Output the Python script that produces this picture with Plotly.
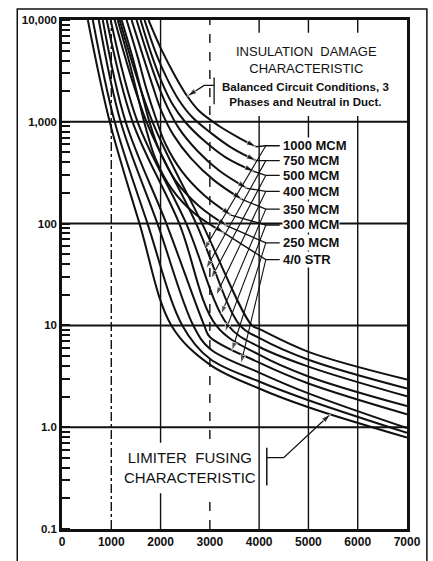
import numpy as np
import plotly.graph_objects as go

# ---- axis ticks ----
X_TICKS = [0, 1000, 2000, 3000, 4000, 5000, 6000, 7000]
Y_TICKS = [0.1, 1, 10, 100, 1000, 10000]
Y_TICK_TEXT = ["0.1", "1.0", "10", "100", "1,000", "10,000"]

CABLES = ["1000 MCM", "750 MCM", "500 MCM", "400 MCM",
          "350 MCM", "300 MCM", "250 MCM", "4/0 STR"]

# ---- insulation damage characteristics (current A, time) ----
ins_1000_i = [1755, 2037, 2300, 2542, 2784, 3187, 3591, 3934]
ins_1000_t = [10000, 4884, 2789, 1782, 1274, 910, 696, 569]
ins_750_i = [1674, 1917, 2139, 2360, 2640, 3046, 3470, 3934]
ins_750_t = [10000, 4565, 2608, 1667, 1114, 761, 544, 416]
ins_500_i = [1594, 1816, 2018, 2230, 2500, 2885, 3329, 3893]
ins_500_t = [10000, 4565, 2494, 1523, 995, 650, 444, 325]
ins_400_i = [1513, 1735, 1937, 2138, 2380, 2744, 3187, 3752]
ins_400_t = [10000, 4565, 2385, 1393, 851, 520, 332, 222]
ins_350_i = [1412, 1634, 1836, 2017, 2259, 2622, 3086, 3651]
ins_350_t = [10000, 4565, 2280, 1274, 744, 435, 266, 173]
ins_300_i = [1311, 1533, 1715, 1896, 2098, 2421, 2885, 3429]
ins_300_t = [10000, 4365, 2084, 1114, 608, 332, 190, 121]
ins_250_i = [1210, 1432, 1614, 1775, 1977, 2300, 2784, 3349]
ins_250_t = [10000, 4269, 1950, 995, 520, 266, 148, 94.8]
ins_4_0_i = [1130, 1352, 1533, 1695, 1896, 2219, 2703, 3288]
ins_4_0_t = [10000, 4083, 1823, 890, 435, 222, 124, 81]

# ---- limiter fusing characteristics (current A, time) ----
lim_1000_i = [1170, 1836, 2844, 3853, 4000, 5000, 7000]
lim_1000_t = [10000, 1000, 100, 10, 9.23, 5.5, 2.94]
lim_750_i = [1069, 1715, 2723, 3611, 4000, 5000, 7000]
lim_750_t = [10000, 1000, 100, 10, 7.54, 4.6, 2.40]
lim_500_i = [988, 1533, 2522, 3369, 4000, 5000, 7000]
lim_500_t = [10000, 1000, 100, 10, 6.17, 3.94, 2.01]
lim_400_i = [908, 1432, 2380, 3127, 4000, 5000, 7000]
lim_400_t = [10000, 1000, 100, 10, 5.15, 3.15, 1.61]
lim_350_i = [827, 1291, 2118, 2885, 3000, 4000, 5000, 7000]
lim_350_t = [10000, 1000, 100, 10, 7.7, 4.31, 2.69, 1.34]
lim_300_i = [746, 1190, 1937, 2663, 3000, 4000, 5000, 7000]
lim_300_t = [10000, 1000, 100, 10, 5.9, 3.44, 2.15, 0.98]
lim_250_i = [625, 1069, 1735, 2441, 3000, 4000, 5000, 7000]
lim_250_t = [10000, 1000, 100, 10, 4.7, 2.81, 1.84, 0.88]
lim_4_0_i = [524, 968, 1573, 2219, 3000, 4000, 5000, 7000]
lim_4_0_t = [10000, 1000, 100, 10, 4.12, 2.40, 1.57, 0.79]

ins_curves = [(ins_1000_i, ins_1000_t), (ins_750_i, ins_750_t),
              (ins_500_i, ins_500_t), (ins_400_i, ins_400_t),
              (ins_350_i, ins_350_t), (ins_300_i, ins_300_t),
              (ins_250_i, ins_250_t), (ins_4_0_i, ins_4_0_t)]
lim_curves = [(lim_1000_i, lim_1000_t), (lim_750_i, lim_750_t),
              (lim_500_i, lim_500_t), (lim_400_i, lim_400_t),
              (lim_350_i, lim_350_t), (lim_300_i, lim_300_t),
              (lim_250_i, lim_250_t), (lim_4_0_i, lim_4_0_t)]

# ---- page geometry (pixels) ----
W, H = 433, 561
L, R, T, B = 62, 24, 20, 27
PW, PH = W - L - R, H - T - B
X_MAX = 7000
LOG_MIN, LOG_MAX = -1, 4


def px_x(px):
    return (px - L) / PW


def px_y(py):
    return (H - B - py) / PH


def px_to_data(px, py):
    """Screen pixel -> (current, time) for placing leader ends."""
    x = (px - L) / PW * X_MAX
    t = 10 ** (LOG_MAX - (py - T) / PH * (LOG_MAX - LOG_MIN))
    return x, t


def time_on(curve, current):
    xs, ts = curve
    return 10 ** np.interp(current, xs, np.log10(ts))


INK = "#111111"
FONT = "Liberation Sans"
CURVE = dict(color=INK, width=2, shape="spline", smoothing=1.0)

fig = go.Figure()

# limiter fusing curves
for xs, ts in lim_curves:
    fig.add_trace(go.Scatter(x=xs, y=ts, mode="lines", line=CURVE,
                             hoverinfo="skip", showlegend=False))
# insulation damage curves, each ending in a filled arrowhead
for xs, ts in ins_curves:
    fig.add_trace(go.Scatter(x=xs, y=ts, mode="lines+markers", line=CURVE,
                             marker=dict(symbol="arrow", size=[0] * (len(xs) - 1) + [10],
                                         angleref="previous", color=INK),
                             hoverinfo="skip", showlegend=False))

# cable labels, leaders and the pointers down to the limiter curves
label_y = [147, 162, 177, 193, 211, 227, 245, 262]
pointer_tips = [(205, 252), (207, 271), (212, 281), (217, 298),
                (222, 317), (226, 335), (233, 354), (242, 367)]
for k, name in enumerate(CABLES):
    ly = label_y[k]
    fig.add_annotation(x=px_x(283), y=px_y(ly), xref="paper", yref="paper",
                       text=f"<b>{name}</b>", showarrow=False, xanchor="left",
                       yanchor="middle", bgcolor="white", borderpad=0,
                       font=dict(family=FONT, size=13, color=INK))
    jx, jt = px_to_data(267, ly)
    lx, lt = px_to_data(281, ly)
    xs, ts = ins_curves[k]
    fig.add_trace(go.Scatter(x=[lx, jx, xs[-1]], y=[lt, jt, ts[-1]], mode="lines",
                             line=dict(color=INK, width=1.3),
                             hoverinfo="skip", showlegend=False))
    px_, py_ = pointer_tips[k]
    tx, tt = px_to_data(px_, py_)
    fig.add_trace(go.Scatter(x=[jx, tx], y=[jt, tt], mode="lines+markers",
                             line=dict(color=INK, width=1.1),
                             marker=dict(symbol="arrow", size=[0, 9], angleref="previous",
                                         color=INK),
                             hoverinfo="skip", showlegend=False))

# grid drawn as shapes so each line can have its own style
shapes = []
v_dash = {1000: "dashdot", 2000: "solid", 3000: "dash", 4000: "solid",
          5000: "solid", 6000: "solid"}
for xv, d in v_dash.items():
    shapes.append(dict(type="line", xref="x", yref="paper", x0=xv, x1=xv, y0=0, y1=1,
                       line=dict(color=INK, width=1.4, dash=d), layer="below"))
for yv in [1, 10, 100, 1000]:
    shapes.append(dict(type="line", xref="paper", yref="y", x0=0, x1=1, y0=yv, y1=yv,
                       line=dict(color=INK, width=2), layer="below"))
# white panels behind the two captions
shapes.append(dict(type="rect", xref="paper", yref="paper", x0=px_x(212), x1=px_x(406),
                   y0=px_y(117), y1=px_y(33), fillcolor="white", line=dict(width=0),
                   layer="below"))
shapes.append(dict(type="rect", xref="paper", yref="paper", x0=px_x(118), x1=px_x(257),
                   y0=px_y(498), y1=px_y(447), fillcolor="white", line=dict(width=0),
                   layer="below"))
# outer frame
shapes.append(dict(type="rect", xref="paper", yref="paper", x0=px_x(17), x1=px_x(429),
                   y0=px_y(575), y1=px_y(9), line=dict(color=INK, width=1.5)))
# caption brackets
shapes.append(dict(type="line", xref="paper", yref="paper", x0=px_x(215), x1=px_x(215),
                   y0=px_y(105), y1=px_y(78), line=dict(color=INK, width=1.3)))
shapes.append(dict(type="line", xref="paper", yref="paper", x0=px_x(268), x1=px_x(268),
                   y0=px_y(490), y1=px_y(452), line=dict(color=INK, width=1.5)))

# caption pointers
bx0, bt0 = px_to_data(215, 86)
bx1, bt1 = px_to_data(205, 86)
tip_i = 2542
fig.add_trace(go.Scatter(x=[bx0, bx1, tip_i], y=[bt0, bt1, time_on(ins_curves[0], tip_i)],
                         mode="lines+markers", line=dict(color=INK, width=1.3),
                         marker=dict(symbol="arrow", size=[0, 0, 10], angleref="previous",
                                     color=INK),
                         hoverinfo="skip", showlegend=False))
cx0, ct0 = px_to_data(268, 462)
cx1, ct1 = px_to_data(285, 462)
tip_i = 5450
fig.add_trace(go.Scatter(x=[cx0, cx1, tip_i], y=[ct0, ct1, time_on(lim_curves[7], tip_i)],
                         mode="lines+markers", line=dict(color=INK, width=1.3),
                         marker=dict(symbol="arrow", size=[0, 0, 10], angleref="previous",
                                     color=INK),
                         hoverinfo="skip", showlegend=False))

# captions
fig.add_annotation(x=px_x(308), y=px_y(60), xref="paper", yref="paper",
                   xanchor="center", yanchor="middle",
                   text="INSULATION  DAMAGE<br>CHARACTERISTIC", showarrow=False,
                   font=dict(family=FONT, size=13, color=INK), align="center")
fig.add_annotation(x=px_x(307), y=px_y(95), xref="paper", yref="paper",
                   xanchor="center", yanchor="middle",
                   text="<b>Balanced Circuit Conditions, 3</b><br><b>Phases and Neutral in Duct.</b>",
                   showarrow=False, align="center",
                   font=dict(family=FONT, size=11.5, color=INK))
fig.add_annotation(x=px_x(191), y=px_y(472), xref="paper", yref="paper",
                   xanchor="center", yanchor="middle",
                   text="LIMITER  FUSING<br>CHARACTERISTIC", showarrow=False,
                   font=dict(family=FONT, size=15, color=INK), align="center")

fig.update_layout(
    width=W, height=H, margin=dict(l=L, r=R, t=T, b=B),
    paper_bgcolor="white", plot_bgcolor="white", shapes=shapes,
    xaxis=dict(range=[0, X_MAX], tickvals=X_TICKS, ticktext=[str(v) for v in X_TICKS],
               showgrid=False, zeroline=False, showline=True, linewidth=2.5,
               linecolor=INK, mirror=True, ticks="",
               tickfont=dict(family=FONT, size=12, color=INK, weight="bold")),
    yaxis=dict(type="log", range=[LOG_MIN, LOG_MAX], tickvals=Y_TICKS,
               ticktext=Y_TICK_TEXT, showgrid=False, zeroline=False, showline=True,
               linewidth=2.5, linecolor=INK, mirror=True, ticks="",
               tickfont=dict(family=FONT, size=11.5, color=INK, weight="bold"),
               minor=dict(ticks="inside", ticklen=8, tickwidth=2, tickcolor=INK,
                          dtick="D1", showgrid=False)),
)

fig.write_html("out.html")
